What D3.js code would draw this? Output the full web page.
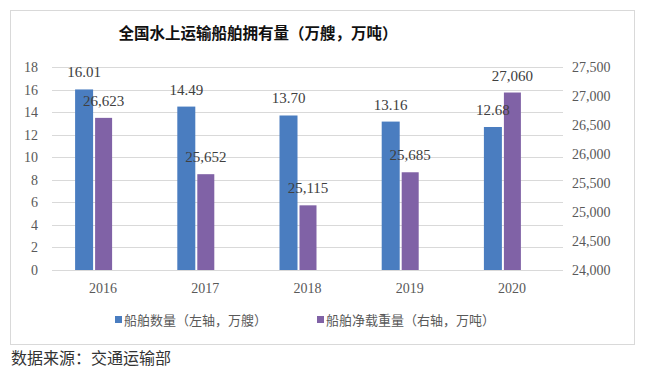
<!DOCTYPE html>
<html>
<head>
<meta charset="utf-8">
<script src="https://cdn.jsdelivr.net/npm/d3@7"></script>
<style>
  body { margin: 0; background: #fff; }
  svg { display: block; }
</style>
</head>
<body>
<div id="chart"></div>
<script>
// data
const years = ["2016", "2017", "2018", "2019", "2020"];
const shipCount = [16.01, 14.49, 13.70, 13.16, 12.68];      // 万艘, left axis
const netTonnage = [26623, 25652, 25115, 25685, 27060];     // 万吨, right axis
const leftTicks = [0, 2, 4, 6, 8, 10, 12, 14, 16, 18];
const rightTicks = [24000, 24500, 25000, 25500, 26000, 26500, 27000, 27500];
const seriesNames = ["船舶数量（左轴，万艘）", "船舶净载重量（右轴，万吨）"];
const colors = ["#4a7dc0", "#8062a6"];

const W = 645, H = 373;
const plot = { left: 52, right: 563, top: 67, bottom: 270 };

const svg = d3.select("#chart").append("svg")
    .attr("width", W)
    .attr("height", H);

svg.append("rect")
    .attr("width", W).attr("height", H)
    .attr("fill", "#fff");

// outer frame
svg.append("rect")
    .attr("x", 10.5).attr("y", 10.5)
    .attr("width", 624).attr("height", 334)
    .attr("fill", "none")
    .attr("stroke", "#d9d9d9");

const x = d3.scaleBand().domain(years).range([plot.left, plot.right]);
const yLeft = d3.scaleLinear().domain([0, 18]).range([plot.bottom, plot.top]);
const yRight = d3.scaleLinear().domain([24000, 27500]).range([plot.bottom, plot.top]);

const serif = "'Liberation Serif', 'DejaVu Serif', serif";
const cjk = "'Noto Sans CJK SC', sans-serif";

// gridlines
svg.append("g")
    .selectAll("line")
    .data(leftTicks)
    .join("line")
    .attr("x1", plot.left).attr("x2", plot.right)
    .attr("y1", d => Math.round(yLeft(d)) + 0.5)
    .attr("y2", d => Math.round(yLeft(d)) + 0.5)
    .attr("stroke", "#d9d9d9");

// left axis
const leftAxis = svg.append("g")
    .attr("transform", `translate(${plot.left - 14},0)`)
    .call(d3.axisLeft(yLeft).tickValues(leftTicks).tickSize(0).tickPadding(0));
leftAxis.select(".domain").remove();
leftAxis.selectAll("text")
    .attr("font-family", serif)
    .attr("font-size", 14)
    .attr("fill", "#595959");

// right axis
const rightAxis = svg.append("g")
    .attr("transform", `translate(${plot.right + 9},0)`)
    .call(d3.axisRight(yRight).tickValues(rightTicks).tickSize(0).tickPadding(0)
        .tickFormat(d3.format(",")));
rightAxis.select(".domain").remove();
rightAxis.selectAll("text")
    .attr("font-family", serif)
    .attr("font-size", 14)
    .attr("fill", "#595959");

// x axis labels
svg.append("g")
    .selectAll("text")
    .data(years)
    .join("text")
    .attr("x", d => x(d) + x.bandwidth() / 2)
    .attr("y", 293)
    .attr("text-anchor", "middle")
    .attr("font-family", serif)
    .attr("font-size", 14)
    .attr("fill", "#595959")
    .text(d => d);

// bars (pair sits slightly left of the category centre, as in the original)
const barW1 = 18, barW2 = 17;
const blueOffset = -28, purpleOffset = -8;
const center = i => x(years[i]) + x.bandwidth() / 2;

svg.append("g")
    .selectAll("rect")
    .data(shipCount)
    .join("rect")
    .attr("x", (d, i) => center(i) + blueOffset)
    .attr("y", d => yLeft(d))
    .attr("width", barW1)
    .attr("height", d => plot.bottom - yLeft(d))
    .attr("fill", colors[0]);

svg.append("g")
    .selectAll("rect")
    .data(netTonnage)
    .join("rect")
    .attr("x", (d, i) => center(i) + purpleOffset)
    .attr("y", d => yRight(d))
    .attr("width", barW2)
    .attr("height", d => plot.bottom - yRight(d))
    .attr("fill", colors[1]);

// value labels
svg.append("g")
    .selectAll("text")
    .data(shipCount)
    .join("text")
    .attr("x", (d, i) => center(i) + blueOffset + barW1 / 2)
    .attr("y", d => yLeft(d) - 12)
    .attr("text-anchor", "middle")
    .attr("font-family", serif)
    .attr("font-size", 15)
    .attr("fill", "#404040")
    .text(d => d.toFixed(2));

svg.append("g")
    .selectAll("text")
    .data(netTonnage)
    .join("text")
    .attr("x", (d, i) => center(i) + purpleOffset + barW2 / 2)
    .attr("y", d => yRight(d) - 12)
    .attr("text-anchor", "middle")
    .attr("font-family", serif)
    .attr("font-size", 15)
    .attr("fill", "#404040")
    .text(d => d3.format(",")(d));

// title
svg.append("text")
    .attr("x", 258)
    .attr("y", 39)
    .attr("text-anchor", "middle")
    .attr("font-family", cjk)
    .attr("font-weight", "bold")
    .attr("font-size", 15.5)
    .attr("fill", "#111")
    .text("全国水上运输船舶拥有量（万艘，万吨）");

// legend
const legendX = [115, 317];
const legend = svg.append("g")
    .selectAll("g")
    .data(seriesNames)
    .join("g")
    .attr("transform", (d, i) => `translate(${legendX[i]},320)`);
legend.append("rect")
    .attr("x", 0).attr("y", -4)
    .attr("width", 7).attr("height", 7)
    .attr("fill", (d, i) => colors[i]);
legend.append("text")
    .attr("x", 9)
    .attr("y", 5)
    .attr("font-family", cjk)
    .attr("font-size", 13)
    .attr("fill", "#595959")
    .text(d => d);

// source note
svg.append("text")
    .attr("x", 11)
    .attr("y", 364)
    .attr("font-family", cjk)
    .attr("font-size", 16)
    .attr("fill", "#333")
    .text("数据来源：交通运输部");
</script>
</body>
</html>
